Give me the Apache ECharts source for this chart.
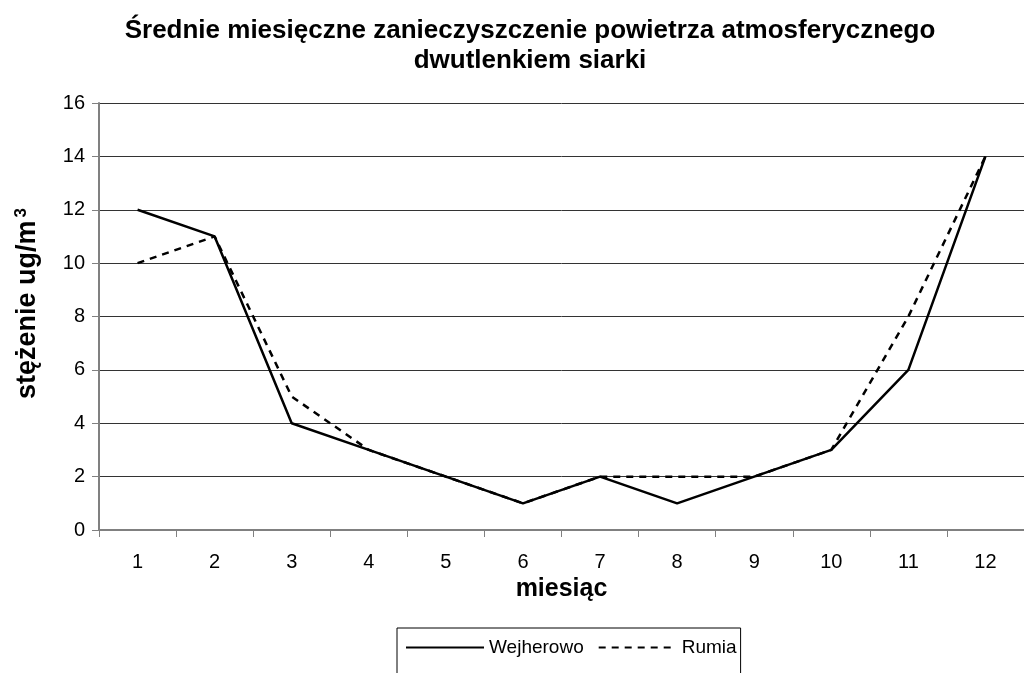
<!DOCTYPE html>
<html>
<head>
<meta charset="utf-8">
<script src="https://cdn.jsdelivr.net/npm/echarts@6/dist/echarts.min.js"></script>
<style>
  html, body { margin: 0; padding: 0; background: #fff; }
  #chart { width: 1024px; height: 673px; }
</style>
</head>
<body>
<div id="chart"></div>
<script>
// miesiące i wartości
var months = ['1', '2', '3', '4', '5', '6', '7', '8', '9', '10', '11', '12'];
var wejherowo = [12, 11, 4, 3, 2, 1, 2, 1, 2, 3, 6, 14];
var rumia = [10, 11, 5, 3, 2, 1, 2, 2, 2, 3, 8, 14];

var font = '"Liberation Sans", Arial, sans-serif';

var myChart = echarts.init(document.getElementById('chart'));
var option = {
  animation: false,
  backgroundColor: '#fff',
  textStyle: { fontFamily: font },
  title: {
    text: 'Średnie miesięczne zanieczyszczenie powietrza atmosferycznego\ndwutlenkiem siarki',
    left: 525,
    textAlign: 'center',
    top: 11,
    textStyle: { fontFamily: font, fontSize: 26, fontWeight: 'bold', color: '#000', lineHeight: 30 }
  },
  grid: { left: 99, top: 103, width: 936, height: 427, containLabel: false },
  legend: {
    left: 397,
    top: 628,
    width: 342,
    orient: 'horizontal',
    itemWidth: 78,
    itemHeight: 14,
    itemGap: 14,
    padding: [10, 4, 40, 8],
    borderColor: '#000',
    borderWidth: 1,
    itemStyle: { opacity: 0 },
    textStyle: { fontFamily: font, fontSize: 19, color: '#000' },
    data: ['Wejherowo', 'Rumia']
  },
  xAxis: {
    type: 'category',
    data: months,
    boundaryGap: true,
    name: 'miesiąc',
    nameLocation: 'middle',
    nameGap: 45,
    nameTextStyle: { fontFamily: font, fontSize: 25, fontWeight: 'bold', color: '#000' },
    axisLine: { lineStyle: { color: '#808080', width: 2 } },
    axisTick: { show: true, length: 7, lineStyle: { color: '#808080', width: 1 } },
    axisLabel: { margin: 22, fontFamily: font, fontSize: 20, color: '#000' },
    splitLine: { show: false }
  },
  yAxis: {
    type: 'value',
    min: 0,
    max: 16,
    interval: 2,
    name: '{a|stężenie ug/m}{s|3}',
    nameLocation: 'middle',
    nameRotate: 90,
    nameGap: 56,
    nameTextStyle: {
      padding: [0, 0, 0, 26],
      rich: {
        a: { fontFamily: font, fontSize: 27, fontWeight: 'bold', color: '#000', lineHeight: 30 },
        s: { fontFamily: font, fontSize: 17, fontWeight: 'bold', color: '#000', verticalAlign: 'top', lineHeight: 30, padding: [0, 0, 0, 3] }
      }
    },
    axisLine: { show: true, lineStyle: { color: '#808080', width: 2 } },
    axisTick: { show: true, length: 7, lineStyle: { color: '#808080', width: 1 } },
    axisLabel: { margin: 14, fontFamily: font, fontSize: 20, color: '#000' },
    splitLine: { show: true, lineStyle: { color: '#333', width: 1 } }
  },
  series: [
    {
      name: 'Wejherowo',
      type: 'line',
      data: wejherowo,
      symbol: 'none',
      z: 3,
      lineStyle: { color: '#000', width: 2.5, type: 'solid' },
      itemStyle: { color: '#000' }
    },
    {
      name: 'Rumia',
      type: 'line',
      data: rumia,
      symbol: 'none',
      z: 2,
      lineStyle: { color: '#000', width: 2.5, type: [7, 6] },
      itemStyle: { color: '#000' }
    }
  ]
};
myChart.setOption(option);
</script>
</body>
</html>
